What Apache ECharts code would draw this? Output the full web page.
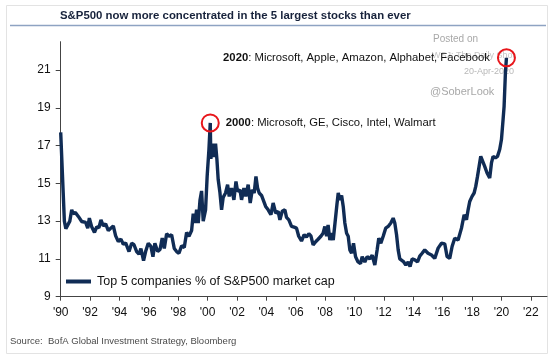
<!DOCTYPE html>
<html>
<head>
<meta charset="utf-8">
<script src="https://cdn.jsdelivr.net/npm/echarts@6/dist/echarts.min.js"></script>
<style>html,body{margin:0;padding:0;background:#fff;}#c{width:552px;height:357px;}</style>
</head>
<body>
<div id="c"></div>
<script>
// ---- data ----
var years = [1990.0,1990.1,1990.17,1990.25,1990.35,1990.47,1990.62,1990.75,1990.85,1991.0,1991.2,1991.43,1991.7,1991.84,1991.95,1992.1,1992.3,1992.45,1992.6,1992.74,1992.9,1993.06,1993.24,1993.37,1993.58,1993.74,1993.92,1994.1,1994.26,1994.42,1994.65,1994.83,1994.99,1995.17,1995.33,1995.46,1995.64,1995.78,1995.96,1996.14,1996.28,1996.41,1996.6,1996.76,1996.91,1997.05,1997.21,1997.37,1997.55,1997.73,1997.89,1998.05,1998.23,1998.41,1998.57,1998.73,1998.91,1999.02,1999.14,1999.25,1999.36,1999.48,1999.59,1999.7,1999.86,1999.97,2000.09,2000.18,2000.22,2000.34,2000.45,2000.54,2000.63,2000.72,2000.84,2000.95,2001.06,2001.22,2001.36,2001.47,2001.63,2001.79,2001.93,2002.04,2002.2,2002.31,2002.47,2002.6,2002.76,2002.9,2003.04,2003.17,2003.29,2003.4,2003.51,2003.67,2003.78,2003.95,2004.12,2004.31,2004.46,2004.63,2004.8,2004.92,2005.08,2005.26,2005.37,2005.53,2005.71,2005.89,2006.05,2006.2,2006.39,2006.57,2006.73,2006.89,2007.03,2007.18,2007.37,2007.52,2007.71,2007.86,2007.98,2008.1,2008.2,2008.32,2008.44,2008.55,2008.66,2008.8,2008.89,2009.0,2009.12,2009.23,2009.34,2009.46,2009.57,2009.68,2009.8,2009.93,2010.07,2010.24,2010.41,2010.52,2010.7,2010.86,2011.04,2011.2,2011.38,2011.54,2011.65,2011.79,2011.95,2012.12,2012.29,2012.47,2012.63,2012.74,2012.86,2012.97,2013.08,2013.2,2013.35,2013.49,2013.65,2013.78,2013.92,2014.1,2014.29,2014.44,2014.6,2014.78,2015.0,2015.24,2015.46,2015.69,2015.92,2016.14,2016.3,2016.48,2016.64,2016.82,2017.05,2017.28,2017.46,2017.62,2017.73,2017.84,2018.0,2018.14,2018.25,2018.37,2018.48,2018.59,2018.71,2018.86,2019.02,2019.2,2019.32,2019.43,2019.59,2019.73,2019.88,2020.0,2020.11,2020.18,2020.27,2020.34];
var top5Share = [17.7,17.65,14.5,13.0,12.6,12.55,13.0,13.6,13.4,13.45,13.25,12.98,12.93,12.63,13.16,12.72,12.4,12.7,12.65,13.07,12.75,12.86,12.5,12.6,12.75,12.22,11.92,12.05,11.78,11.85,11.39,11.83,11.75,11.39,11.25,11.55,10.91,11.39,11.83,11.66,11.12,11.83,11.39,11.5,12.1,11.55,12.33,12.2,12.28,11.55,11.39,11.3,11.7,11.6,12.4,12.2,12.5,13.4,12.9,13.6,12.9,14.1,14.6,13.0,13.6,15.4,16.8,18.2,16.3,17.1,16.4,17.1,16.3,15.2,14.5,13.6,14.26,14.49,14.93,14.31,14.75,14.13,15.1,14.57,14.66,14.13,14.75,14.31,14.93,13.96,14.66,14.49,15.37,14.75,14.49,14.36,14.26,13.78,13.6,13.34,13.96,13.43,13.52,13.07,13.52,13.6,13.2,13.07,12.72,12.68,12.63,12.2,11.95,12.28,12.16,12.33,12.22,11.74,11.92,12.04,12.2,12.36,12.72,12.2,12.8,12.0,12.36,12.0,12.0,13.87,14.49,14.13,14.36,13.78,12.9,12.36,12.2,11.48,11.3,11.83,11.12,10.84,10.75,11.12,10.84,11.12,11.0,11.2,10.68,11.48,12.1,11.83,12.2,12.63,12.72,12.9,13.16,12.9,12.28,11.48,11.0,10.95,10.84,10.68,10.84,10.6,11.0,10.95,10.84,11.15,11.3,11.48,11.3,11.21,11.03,11.57,11.83,11.8,11.12,11.03,11.66,12.1,12.0,12.63,13.34,13.07,13.6,14.04,14.31,14.49,14.84,15.37,15.9,16.43,16.52,15.9,15.55,15.28,16.08,16.43,16.35,16.43,16.79,17.32,18.38,19.08,20.86,21.65];
var xTickYears = [1990,1992,1994,1996,1998,2000,2002,2004,2006,2008,2010,2012,2014,2016,2018,2020,2022];
var yTickValues = [9,11,13,15,17,19,21];
var peaks = [
  {year: 2000.18, value: 18.2, label: '2000', names: 'Microsoft, GE, Cisco, Intel, Walmart', side: 'right'},
  {year: 2020.34, value: 21.65, label: '2020', names: 'Microsoft, Apple, Amazon, Alphabet, Facebook', side: 'left'}
];
var seriesName = 'Top 5 companies % of S&P500 market cap';
var titleText = 'S&P500 now more concentrated in the 5 largest stocks than ever';
var sourceText = 'Source:  BofA Global Investment Strategy, Bloomberg';

var lineData = years.map(function (y, i) { return [y, top5Share[i]]; });
var navy = '#102c55';
var F = "'Liberation Sans', Arial, sans-serif";
var FN = "'Liberation Sans Narrow', 'Arial Narrow', 'Liberation Sans', sans-serif";

var chart = echarts.init(document.getElementById('c'), null, {renderer: 'canvas'});
chart.setOption({
  animation: false,
  backgroundColor: '#fff',
  title: {
    text: titleText, left: 60, top: 10, padding: 0,
    textStyle: {fontFamily: FN, fontWeight: 'bold', fontSize: 11.4, color: '#17223b'}
  },
  grid: {left: 60.7, right: 5, top: 41.7, bottom: 60.3, containLabel: false},
  legend: {
    left: 66, top: 275, padding: 0, itemWidth: 25, itemHeight: 4, itemGap: 6,
    icon: 'rect',
    textStyle: {fontFamily: F, fontSize: 12.5, color: '#111', padding: [0, 0, 0, 1]},
    data: [seriesName]
  },
  xAxis: {
    type: 'value', min: 1990, max: 2023.1, interval: 2,
    splitLine: {show: false},
    axisLine: {lineStyle: {color: '#444', width: 1}},
    axisTick: {show: true, length: 4, inside: false, lineStyle: {color: '#444'}, customValues: xTickYears},
    axisLabel: {
      customValues: xTickYears, margin: 10,
      fontFamily: F, fontSize: 12, color: '#111',
      formatter: function (v) { return "'" + String(Math.round(v)).slice(2); }
    }
  },
  yAxis: {
    type: 'value', min: 9, max: 22.5, interval: 2,
    splitLine: {show: false},
    axisLine: {show: true, lineStyle: {color: '#444', width: 1}},
    axisTick: {show: true, length: 5, lineStyle: {color: '#444'}, customValues: yTickValues},
    axisLabel: {customValues: yTickValues, margin: 10, fontFamily: F, fontSize: 12, color: '#111'}
  },
  series: [{
    name: seriesName,
    type: 'line',
    data: lineData,
    showSymbol: false,
    lineStyle: {color: navy, width: 3.4},
    itemStyle: {color: navy},
    markPoint: {
      silent: true,
      symbol: 'circle', symbolSize: 17,
      itemStyle: {color: 'rgba(0,0,0,0)', borderColor: '#e8161b', borderWidth: 2},
      data: peaks.map(function (p) {
        return {
          coord: [p.year, p.value],
          label: {
            show: true, position: p.side, distance: p.side === 'right' ? 6 : 7,
            formatter: '{b|' + p.label + '}: ' + p.names,
            fontFamily: F, fontSize: 11.3, color: '#111',
            rich: {b: {fontFamily: F, fontSize: 11.3, fontWeight: 'bold', color: '#111'}}
          }
        };
      })
    }
  }],
  graphic: [
    {type: 'rect', shape: {x: 6.5, y: 5.5, width: 541, height: 348}, style: {fill: 'none', stroke: '#e3e3e3', lineWidth: 1}, silent: true, z: -1},
    {type: 'line', shape: {x1: 10, y1: 25.5, x2: 546, y2: 25.5}, style: {stroke: '#8ea3c2', lineWidth: 1.5}, silent: true},
    {type: 'text', left: 433, top: 34, style: {text: 'Posted on', font: '10px ' + F, fill: '#a8a8a8'}, silent: true},
    {type: 'text', left: 432, top: 51, style: {text: 'WSJ: The Daily Shot', font: '9px ' + F, fill: '#c4c4c4'}, silent: true},
    {type: 'text', left: 464, top: 67, style: {text: '20-Apr-2020', font: '9px ' + F, fill: '#b8b8b8'}, silent: true},
    {type: 'text', left: 430, top: 86, style: {text: '@SoberLook', font: '11px ' + F, fill: '#a8a8a8'}, silent: true},
    {type: 'text', left: 10, top: 336, style: {text: sourceText, font: '9.5px ' + FN, fill: '#4a4a4a'}, silent: true}
  ]
});
</script>
</body>
</html>
